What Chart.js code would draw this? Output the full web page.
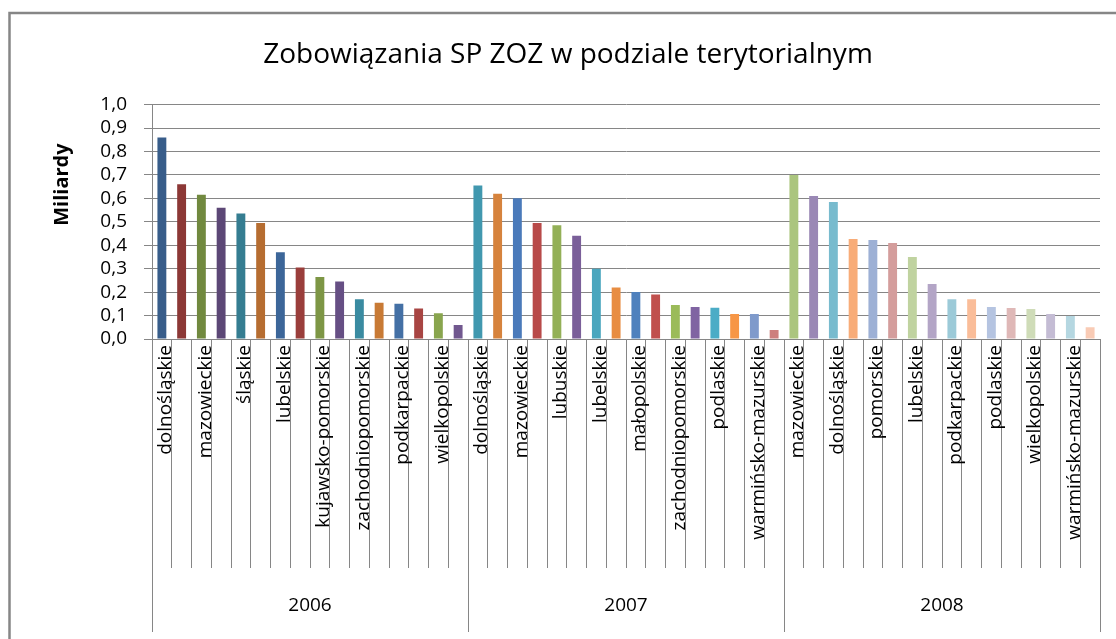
<!DOCTYPE html>
<html lang="pl">
<head>
<meta charset="utf-8">
<title>Zobowiązania SP ZOZ w podziale terytorialnym</title>
<script src="https://cdn.jsdelivr.net/npm/chart.js@4/dist/chart.umd.min.js"></script>
<style>
  html, body { margin: 0; padding: 0; background: #fff; }
  #wykres { display: block; }
</style>
</head>
<body>
<canvas id="wykres" width="1116" height="639"></canvas>
<script>
// dane (mld zł)
const lata = ['2006', '2007', '2008'];

const woj2006 = ['dolnośląskie', 'łódzkie', 'mazowieckie', 'pomorskie', 'śląskie', 'małopolskie', 'lubelskie', 'lubuskie',
  'kujawsko-pomorskie', 'świętokrzyskie', 'zachodniopomorskie', 'opolskie', 'podkarpackie', 'podlaskie', 'wielkopolskie', 'warmińsko-mazurskie'];
const wart2006 = [0.86, 0.66, 0.615, 0.56, 0.535, 0.495, 0.37, 0.305, 0.265, 0.245, 0.17, 0.155, 0.15, 0.13, 0.11, 0.06];

const woj2007 = ['dolnośląskie', 'łódzkie', 'mazowieckie', 'śląskie', 'lubuskie', 'pomorskie', 'lubelskie', 'kujawsko-pomorskie',
  'małopolskie', 'świętokrzyskie', 'zachodniopomorskie', 'opolskie', 'podlaskie', 'podkarpackie', 'warmińsko-mazurskie', 'wielkopolskie'];
const wart2007 = [0.655, 0.62, 0.60, 0.495, 0.485, 0.44, 0.30, 0.22, 0.20, 0.19, 0.145, 0.137, 0.133, 0.107, 0.107, 0.038];

const woj2008 = ['mazowieckie', 'łódzkie', 'dolnośląskie', 'śląskie', 'pomorskie', 'lubuskie', 'lubelskie', 'kujawsko-pomorskie',
  'podkarpackie', 'małopolskie', 'podlaskie', 'zachodniopomorskie', 'wielkopolskie', 'świętokrzyskie', 'warmińsko-mazurskie', 'opolskie'];
const wart2008 = [0.70, 0.61, 0.585, 0.427, 0.422, 0.41, 0.35, 0.235, 0.17, 0.17, 0.137, 0.132, 0.128, 0.107, 0.098, 0.05];

// kolory słupków (jak w Excelu: "różne kolory według punktów")
const paleta = [
  '#385D8A', '#8C3836', '#71893F', '#5C4776', '#357D91', '#B66D31',
  '#3C6699', '#9A3E3B', '#7D9645', '#664F84', '#3A8BA1', '#C87A35',
  '#4470A5', '#A84543', '#89A54E', '#71588F', '#4198AF', '#D6833D',
  '#4A7ABA', '#B84A49', '#93B057', '#7A5F99', '#4AA6BE', '#E88D42',
  '#4F81BD', '#C0504D', '#9BBB59', '#8064A2', '#4BACC6', '#F79646',
  '#7F9ACB', '#CD7F7D', '#ABC57E', '#9A88B5', '#78BBCE', '#F8AC78',
  '#9DB0D5', '#D49D9C', '#C0D3A0', '#B3A5C6', '#9CCAD8', '#FABD99',
  '#B5C4E1', '#DFB8B7', '#CFDCB8', '#C4BCD4', '#B5D7E1', '#F9CBB5'
];

const etykiety = woj2006.concat(woj2007, woj2008);
const wartosci = wart2006.concat(wart2007, wart2008);

const szary = '#868686';
const czcionka = '"Open Sans", "DejaVu Sans", sans-serif';

// ramka wykresu i tytuł osi Y
const ramka = {
  id: 'ramka',
  afterDraw(chart) {
    const ctx = chart.ctx;
    const area = chart.chartArea;
    ctx.save();
    ctx.strokeStyle = szary;
    ctx.lineWidth = 2.5;
    ctx.strokeRect(9.5, 13, chart.width + 10, chart.height + 10);
    ctx.translate(area.left - 90, area.top + 80);
    ctx.rotate(-Math.PI / 2);
    ctx.fillStyle = '#000';
    ctx.font = 'bold 20px ' + czcionka;
    ctx.textAlign = 'center';
    ctx.textBaseline = 'middle';
    ctx.fillText('Miliardy', 0, 0);
    ctx.restore();
  }
};

function rysujWykres() {
  const ctx = document.getElementById('wykres').getContext('2d');

  new Chart(ctx, {
    type: 'bar',
    data: {
      labels: etykiety,
      datasets: [{
        label: 'Zobowiązania',
        data: wartosci,
        backgroundColor: paleta,
        borderWidth: 0,
        barPercentage: 0.5,
        categoryPercentage: 0.9
      }]
    },
    options: {
      responsive: false,
      animation: false,
      layout: { padding: { top: 0, left: 36, right: 16, bottom: 7 } },
      plugins: {
        legend: { display: false },
        tooltip: { enabled: false },
        title: {
          display: true,
          text: 'Zobowiązania SP ZOZ w podziale terytorialnym',
          color: '#000',
          font: { family: czcionka, size: 28, weight: 'normal' },
          padding: { top: 38, bottom: 33 }
        }
      },
      scales: {
        y: {
          min: 0,
          max: 1,
          ticks: {
            stepSize: 0.1,
            autoSkip: false,
            color: '#000',
            padding: 17,
            font: { family: czcionka, size: 19 },
            callback: v => v.toFixed(1).replace('.', ',')
          },
          grid: { color: szary, lineWidth: 1, tickLength: 8 },
          border: { color: szary, width: 1 },
          afterFit: s => { s.width = 116; }
        },
        x: {
          offset: true,
          ticks: {
            autoSkip: false,
            minRotation: 90,
            maxRotation: 90,
            padding: -223,
            labelOffset: 4,
            color: '#000',
            font: { family: czcionka, size: 19 },
            callback: function (v, i) { return i % 2 === 0 ? this.getLabelForValue(v) : ''; }
          },
          grid: { offset: true, drawOnChartArea: false, color: szary, lineWidth: 1, tickLength: 229 },
          border: { color: szary, width: 1 },
          afterFit: s => { s.height = 229; }
        },
        lata: {
          type: 'category',
          position: 'bottom',
          labels: lata,
          offset: true,
          ticks: {
            color: '#000',
            padding: -38,
            font: { family: czcionka, size: 19 }
          },
          grid: { offset: true, drawOnChartArea: false, color: szary, lineWidth: 1, tickLength: 64 },
          border: { display: false },
          afterFit: s => { s.height = 64; }
        }
      }
    },
    plugins: [ramka]
  });
}

window.onload = rysujWykres;
</script>
</body>
</html>
